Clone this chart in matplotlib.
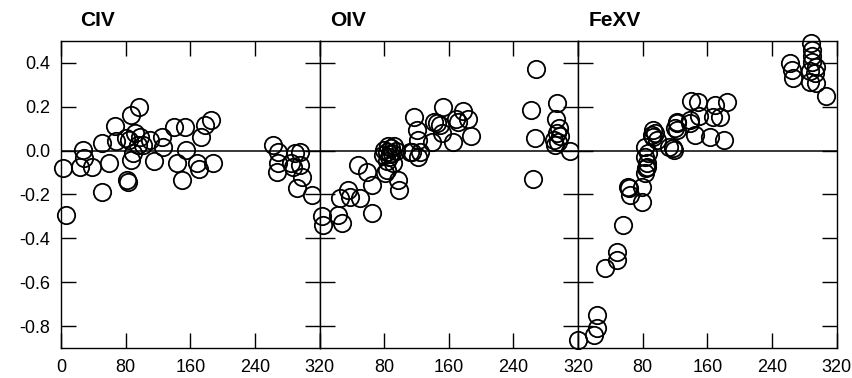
import matplotlib
matplotlib.use('Agg')
import matplotlib.pyplot as plt

plt.rcParams['font.family'] = ['Liberation Sans', 'DejaVu Sans']

# panel names
panels = ['CIV', 'OIV', 'FeXV']

# CIV
civ_x = [2.6, 5.5, 23, 27, 28.6, 37.7, 50, 51, 59.6, 66.6, 67.5, 80, 82, 83, 87, 89, 87, 96,
         91.4, 97.6, 95.5, 84, 101, 110, 114.9, 124.4, 125.7, 139.7, 143.8, 149, 153.3, 154.5,
         167.8, 170.6, 173, 178, 185, 188, 262.7, 268.9, 268.9, 266.8, 289.5, 295.7, 287.4,
         295.7, 297.8, 291.6, 284, 310.2]
civ_y = [-0.08, -0.294, -0.073, 0.003, -0.035, -0.073, -0.19, 0.034, -0.055, 0.113, 0.044,
         0.057, -0.134, -0.142, -0.043, -0.012, 0.163, 0.198, 0.079, 0.064, 0.026, 0.05, 0.026,
         0.049, -0.046, 0.064, 0.018, 0.11, -0.058, -0.134, 0.11, 0.003, -0.058, -0.085, 0.061,
         0.117, 0.14, -0.055, 0.026, -0.004, -0.058, -0.096, -0.012, -0.004, -0.073, -0.065,
         -0.119, -0.172, -0.058, -0.202]

# OIV
oiv_x = [2.6, 4.6, 23, 27.5, 25, 35.5, 37.6, 50, 48, 58.3, 64.5, 65.3, 81, 83, 78, 80, 83, 85,
         86, 88, 90, 92, 84, 87, 91, 94, 97.5, 98.3, 112, 114, 122, 124, 117, 120, 122, 139,
         141, 145, 149, 152.5, 151.5, 165.6, 168.5, 171.8, 177, 184, 187, 267.6, 262, 267,
         264.6, 293.6, 292.8, 296, 293.6, 297, 290, 292, 295, 310]
oiv_y = [-0.30, -0.34, -0.294, -0.33, -0.217, -0.18, -0.21, -0.217, -0.065, -0.096, -0.157,
         -0.286, -0.103, -0.088, -0.02, 0.005, -0.004, 0.02, -0.03, 0.01, -0.012, 0.02, -0.045,
         -0.015, -0.058, 0.0, -0.134, -0.18, -0.004, -0.004, -0.027, -0.004, 0.155, 0.095,
         0.049, 0.041, 0.132, 0.128, 0.117, 0.201, 0.079, 0.041, 0.143, 0.132, 0.181, 0.143,
         0.067, 0.372, 0.186, 0.057, -0.129, 0.219, 0.143, 0.102, 0.08, 0.067, 0.049, 0.026,
         0.04, 0.0]

# FeXV
fexv_x = [0, 20, 24, 24, 33.8, 48, 48, 56, 62.3, 64.4, 63.5, 78.9, 78.9, 83, 83, 85, 84, 86,
          83, 85, 93, 95.4, 97.5, 91, 92.5, 112, 118, 119, 122, 122, 119.6, 122, 138.7, 139.6,
          149, 150, 144.9, 163.5, 169.7, 166.8, 175.9, 181, 184.9, 138.7, 288, 290, 290, 290,
          262.6, 264.7, 265.9, 286.9, 293, 287, 294, 307, 294.5]
fexv_y = [-0.864, -0.842, -0.811, -0.75, -0.537, -0.499, -0.461, -0.339, -0.164, -0.202,
          -0.172, -0.164, -0.233, 0.018, -0.027, -0.073, -0.08, -0.012, -0.103, -0.058, 0.095,
          0.079, 0.049, 0.072, 0.064, 0.018, 0.011, 0.003, 0.125, 0.095, 0.102, 0.132, 0.125,
          0.227, 0.224, 0.158, 0.072, 0.061, 0.209, 0.155, 0.155, 0.049, 0.222, 0.14, 0.49,
          0.457, 0.43, 0.406, 0.399, 0.368, 0.33, 0.361, 0.353, 0.315, 0.31, 0.251, 0.38]

xs = [civ_x, oiv_x, fexv_x]
ys = [civ_y, oiv_y, fexv_y]

x_ticks = [0, 80, 160, 240, 320]
y_ticks = [-0.8, -0.6, -0.4, -0.2, 0.0, 0.2, 0.4]

fig, axes = plt.subplots(1, 3, figsize=(8.53, 3.78), dpi=100, sharey=True)
fig.subplots_adjust(left=0.0717, right=0.9807, top=0.8915, bottom=0.0794, wspace=0)

title_x = [0.074, 0.04, 0.04]
for i, ax in enumerate(axes):
    ax.axhline(0, color='black', lw=1.1, zorder=1)
    ax.plot(xs[i], ys[i], 'o', ms=12.5, mfc='none', mec='black', mew=1.3,
            clip_on=False, zorder=3)
    ax.set_xlim(0, 320)
    ax.set_ylim(-0.9, 0.5)
    ax.set_xticks(x_ticks)
    if i == 0:
        ax.set_xticklabels([str(t) for t in x_ticks])
    else:
        ax.set_xticklabels([''] + [str(t) for t in x_ticks[1:]])
    ax.set_yticks(y_ticks)
    ax.set_yticklabels(['%.1f' % t for t in y_ticks])
    ax.tick_params(direction='in', length=11, width=1, top=True, right=True,
                   labelsize=13, pad=8)
    if i > 0:
        ax.tick_params(labelleft=False)
    for s in ax.spines.values():
        s.set_linewidth(1)
    ax.text(title_x[i], 1.05, panels[i], transform=ax.transAxes, fontsize=15,
            fontweight='bold', ha='left', va='baseline')

fig.savefig('out.png', dpi=100)
